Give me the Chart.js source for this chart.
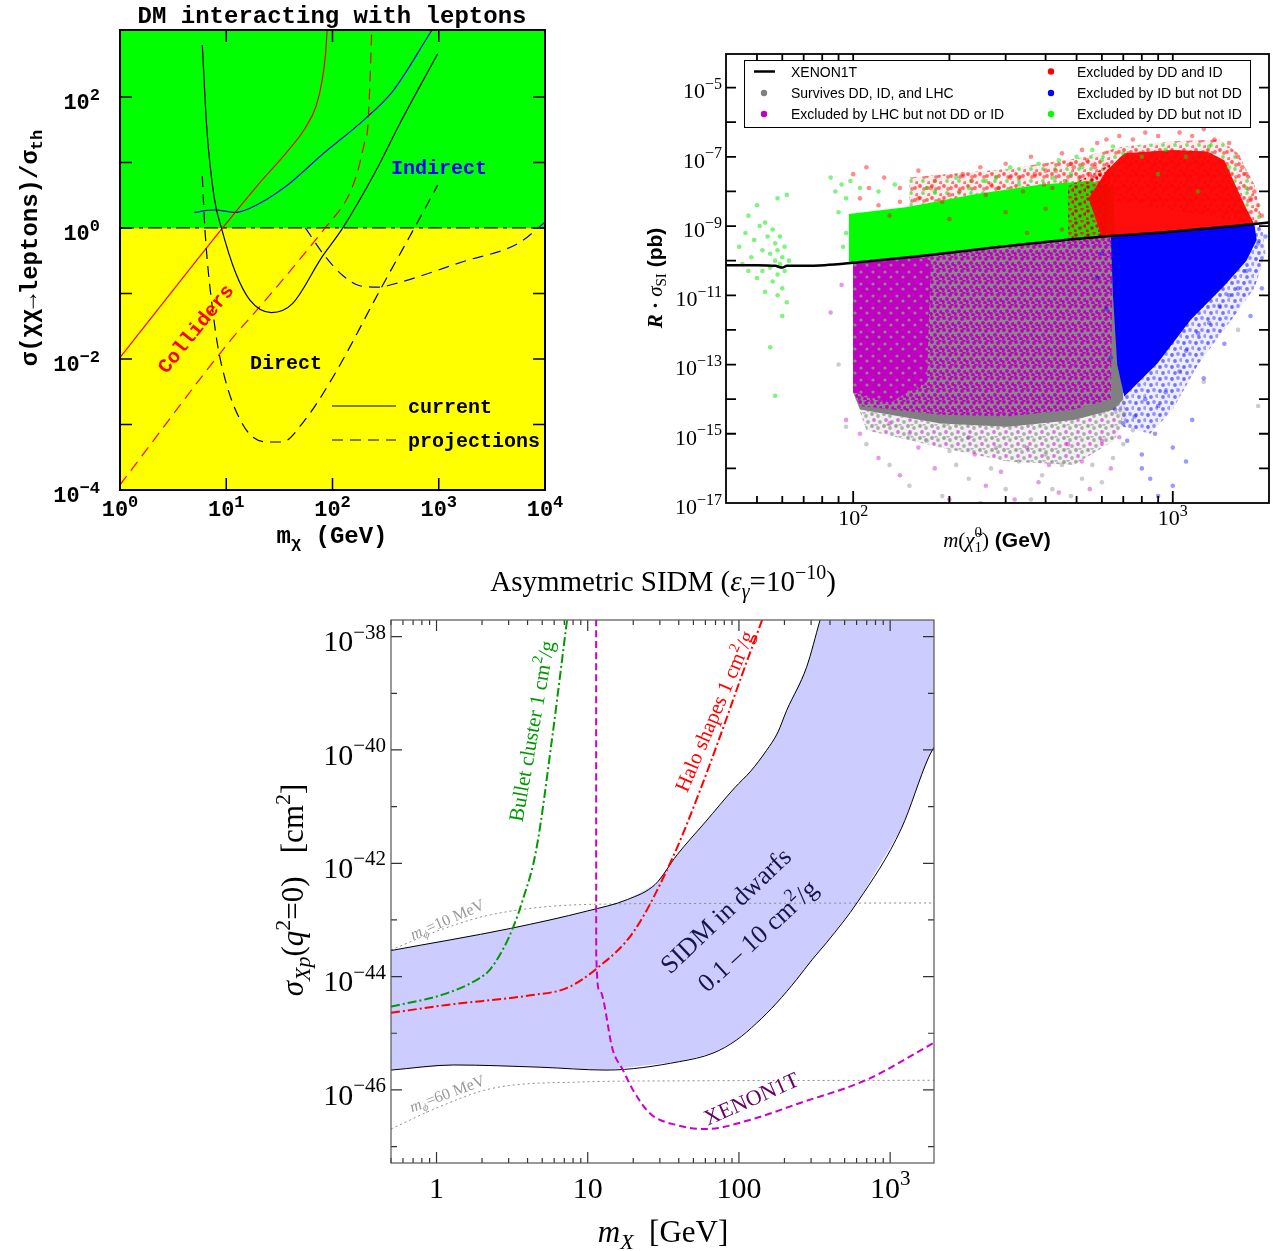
<!doctype html>
<html>
<head>
<meta charset="utf-8">
<title>Dark matter constraints</title>
<script src="https://cdn.jsdelivr.net/npm/chart.js@4.4.0/dist/chart.umd.min.js"></script>
<style>
body { margin: 0; background: #fff; overflow: hidden; }
#wrap { position: relative; width: 1273px; height: 1251px; }
canvas { position: absolute; }
</style>
</head>
<body>
<div id="wrap">
	<canvas id="c1" width="575" height="560" style="left:0px;top:0px"></canvas>
	<canvas id="c2" width="643" height="520" style="left:630px;top:40px"></canvas>
	<canvas id="c3" width="700" height="691" style="left:260px;top:560px"></canvas>
</div>
<script>
var SERIF = '"Liberation Serif", "Times New Roman", serif';
var SANS = '"Liberation Sans", Arial, sans-serif';
var MONO = '"Liberation Mono", "Courier New", monospace';

// ---------- panel 1 : DM interacting with leptons ----------
var p1RedSolidX = [1, 9, 20, 36, 55, 70, 80, 86, 89];
var p1RedSolidY = [0.0105, 0.95, 4.6, 13.5, 33, 72, 180, 450, 1050];
var p1RedDashX = [1, 10.5, 26.5, 85, 140, 171, 200, 215, 226, 234];
var p1RedDashY = [1.2e-4, 0.0176, 0.1, 1, 3, 7, 20, 35, 200, 1050];
var p1BlueSolidX = [5, 7.7, 12.2, 16.7, 36, 79, 199, 370, 864];
var p1BlueSolidY = [1.73, 1.89, 1.73, 2.0, 4.25, 13, 45, 123, 1050];
var p1BlueDashX = [55.5, 85, 125, 184, 272, 370, 1740, 5580, 10000];
var p1BlueDashY = [1, 0.37, 0.188, 0.13, 0.125, 0.138, 0.31, 0.58, 1.22];
var p1BlackSolidX = [5.95, 6.58, 7.7, 9, 12.2, 16.7, 26.6, 42, 78.7, 125, 251, 433, 977];
var p1BlackSolidY = [620, 31, 2.9, 1, 0.21, 0.079, 0.051, 0.07, 0.35, 1, 7, 40, 456];
var p1BlackDashX = [5.95, 6.3, 7.7, 9, 14.3, 24.6, 33.5, 53.4, 99, 294, 590, 977];
var p1BlackDashY = [6.2, 0.95, 0.037, 0.0083, 0.001, 5.4e-4, 5.4e-4, 0.0011, 0.005, 0.13, 1, 4.5];
var p1XRange = [1, 1e4];
var p1YRange = [1e-4, 1050];
var p1Split = 1;   // green above, yellow below

// ---------- panel 2 : scan over neutralino mass ----------
var p2XRange = [40, 2000];
var p2YRange = [1e-17, Math.pow(10, -4.03)];
var p2XenonX = [40, 50, 57, 60, 62, 70, 81.5, 100, 160, 288, 517, 1000, 2000];
var p2XenonExp = [-10.13, -10.13, -10.15, -10.2, -10.15, -10.15, -10.13, -10.06, -9.87, -9.6, -9.36, -9.16, -8.9];
// dense parts of the clouds, [mass, log10 sigma]
var p2GreenCore = [[97,-10.05],[97,-8.65],[148,-8.45],[240,-8.08],[387,-7.8],[554,-7.7],[650,-7.9],[660,-9.3],[517,-9.36],[288,-9.6],[160,-9.87]];
var p2RedHalo = [[150,-8.45],[150,-7.6],[300,-7.35],[500,-7.05],[700,-6.7],[1000,-6.55],[1400,-6.5],[1600,-6.9],[1800,-7.8],[1900,-8.8],[1800,-8.95],[600,-8.2],[387,-7.8],[240,-8.08]];
var p2RedEdge = [[470,-9.4],[470,-7.85],[560,-7.5],[640,-7.2],[620,-9.33]];
var p2RedCore = [[600,-9.33],[545,-8.2],[620,-7.4],[705,-6.9],[1000,-6.8],[1282,-6.85],[1450,-7.1],[1550,-7.7],[1700,-8.5],[1800,-8.95],[1000,-9.16],[700,-9.27]];
var p2BlueCore = [[640,-9.3],[1000,-9.16],[1800,-8.95],[1830,-9.4],[1700,-10.0],[1445,-10.74],[1138,-11.71],[896,-12.96],[705,-13.92],[670,-13.0],[650,-11]];
var p2BlueHalo = [[600,-9.35],[1000,-9.16],[1900,-8.92],[1950,-9.8],[1800,-10.8],[1500,-11.8],[1200,-13],[1000,-14.3],[850,-15.0],[700,-14.8],[620,-13],[600,-11]];
var p2GrayCore = [[100,-10.06],[100,-13.8],[105,-14.3],[188,-14.7],[304,-14.8],[490,-14.6],[655,-14.3],[700,-14.0],[670,-9.28],[517,-9.36],[288,-9.6],[160,-9.87]];
var p2GrayHalo = [[100,-13.8],[110,-14.9],[188,-15.4],[304,-15.8],[490,-15.9],[655,-15.2],[720,-14.5],[700,-14.0],[490,-14.6],[188,-14.7],[105,-14.3]];
var p2MagentaMix = [[100,-10.06],[100,-13.8],[105,-14.2],[188,-14.45],[304,-14.5],[490,-14.3],[640,-14.0],[650,-9.3],[517,-9.36],[288,-9.6],[160,-9.87]];
var p2MagentaLeft = [[100,-10.06],[100,-13.8],[130,-14.1],[170,-13.5],[175,-10],[160,-9.87]];
// loose points round the clouds
var p2GreenDots = [[44,-9.6],[46,-9.2],[47,-8.7],[48,-9.9],[49,-9.4],[50,-8.4],[51,-9.0],[52,-9.7],[52,-10.3],[53,-8.9],[54,-9.3],[55,-9.8],[55,-10.2],[56,-9.1],[56,-10.6],[57,-9.5],[57,-10.0],[58,-8.2],[58,-9.7],[58,-10.4],[59,-9.3],[59,-10.1],[60,-9.9],[60,-10.8],[61,-9.6],[61,-10.3],[62,-8.1],[62,-11.2],[60,-11.6],[58,-11.0],[45,-10.1],[47,-10.3],[53,-10.9],[55,-12.5],[57,-13.9],[50,-10.5],[63,-10.0],[85,-7.6],[88,-8.0],[92,-7.8],[95,-8.2],[90,-8.6],[98,-7.7],[105,-7.9],[120,-8.0],[135,-7.8],[170,-7.9],[210,-7.6],[260,-7.7],[310,-7.3],[380,-7.2],[440,-7.1],[500,-7.0],[560,-6.8],[650,-6.7],[700,-6.9],[800,-7.0],[950,-6.8],[1100,-7.0],[1300,-6.7],[1500,-7.3],[1700,-7.9],[900,-7.5],[1200,-8.0],[95,-9.2],[93,-9.6],[180,-8.0],[230,-7.9],[280,-7.6],[330,-7.8],[420,-7.6],[480,-7.5],[520,-7.3],[600,-7.1]];
var p2RedDots = [[100,-7.5],[110,-7.3],[125,-7.6],[140,-7.9],[160,-7.4],[180,-7.7],[200,-8.1],[220,-7.5],[250,-7.3],[270,-7.8],[300,-7.2],[330,-7.6],[360,-7.0],[400,-7.4],[420,-7.9],[450,-6.9],[480,-7.2],[520,-6.8],[550,-7.5],[580,-6.6],[600,-8.3],[620,-6.5],[680,-6.4],[750,-6.5],[820,-6.3],[900,-6.4],[1050,-6.3],[1150,-6.4],[1250,-6.2],[1350,-6.5],[1500,-6.6],[1600,-7.0],[1700,-7.5],[1800,-8.0],[1850,-8.4],[1900,-8.7],[1750,-8.2],[1650,-7.3],[300,-8.6],[200,-8.8],[400,-8.5],[130,-8.7],[450,-9.1],[350,-9.2],[160,-8.2],[175,-7.9],[190,-8.3],[215,-8.0],[235,-7.7],[260,-8.1],[285,-7.9],[310,-7.6],[340,-8.0],[370,-7.5],[395,-7.8],[430,-7.4],[460,-7.7],[490,-7.3],[510,-7.6],[540,-7.1],[570,-7.3],[140,-8.3],[120,-8.4],[105,-8.2],[112,-7.9]];
var p2BlueDots = [[600,-9.8],[580,-10.5],[620,-11.4],[640,-12.8],[660,-14.3],[700,-14.7],[720,-15.2],[760,-14.5],[800,-15.6],[820,-14.0],[850,-16.3],[880,-15.0],[900,-14.2],[950,-13.8],[1000,-15.4],[1050,-13.2],[1100,-12.6],[1150,-14.6],[1200,-12.1],[1300,-11.8],[1400,-11.3],[1500,-11.0],[1600,-10.8],[1700,-10.3],[1850,-9.5],[1900,-10.8],[1750,-11.6],[1450,-12.4],[1250,-13.4],[1000,-16.5],[900,-16.8],[800,-16.0],[1100,-15.8],[750,-13.2],[1950,-9.3]];
var p2GrayDots = [[90,-13.0],[95,-14.8],[110,-15.3],[130,-15.9],[150,-16.5],[170,-15.2],[190,-16.8],[210,-15.9],[230,-16.3],[250,-17.0],[270,-16.0],[300,-16.6],[330,-15.8],[360,-16.9],[390,-16.2],[420,-16.6],[450,-15.9],[480,-16.8],[520,-16.3],[560,-15.9],[600,-16.4],[650,-15.7],[700,-15.3],[750,-14.9],[1250,-13.5],[1600,-12.0],[1850,-14.2],[280,-15.4],[400,-15.6],[150,-15.0],[200,-15.5]];
var p2MagentaDots = [[85,-11.5],[92,-10.7],[95,-14.6],[105,-15.0],[120,-15.7],[140,-16.2],[160,-15.4],[180,-16.0],[200,-16.9],[240,-15.6],[260,-16.5],[290,-16.1],[320,-16.9],[350,-15.4],[380,-16.4],[410,-15.9],[440,-16.7],[470,-15.3],[520,-15.8],[550,-16.6],[600,-15.2],[640,-16.0],[680,-15.1],[130,-14.7],[230,-15.1]];
var p2Legend = [
	['XENON1T', 'line', '#000'],
	['Survives DD, ID, and LHC', 'dot', '#808080'],
	['Excluded by LHC but not DD or ID', 'dot', '#c000c0'],
	['Excluded by DD and ID', 'dot', '#ff0000'],
	['Excluded by ID but not DD', 'dot', '#0000ff'],
	['Excluded by DD but not ID', 'dot', '#00ff00']
];

// ---------- panel 3 : asymmetric SIDM ----------
var p3XRange = [0.5, 1950];
var p3YRange = [Math.pow(10, -47.29), Math.pow(10, -37.706)];
var p3BandUpperX = [0.5, 3.08, 10, 18.3, 28, 39, 60, 93.5, 120, 152, 180, 207, 280, 344, 2000];
var p3BandUpperExp = [-43.54, -43.15, -42.84, -42.64, -42.37, -41.85, -41.27, -40.67, -40.37, -40.01, -39.7, -39.3, -38.54, -37.706, -37.706];
var p3BandLowerX = [0.5, 1.3, 4.9, 13.2, 40.6, 67.5, 96.4, 131, 177, 241, 305, 380, 614, 1189, 1790, 2000];
var p3BandLowerExp = [-45.65, -45.56, -45.6, -45.65, -45.5, -45.35, -45.12, -44.82, -44.47, -44.05, -43.7, -43.4, -42.67, -41.38, -40.14, -39.9];
var p3BulletX = [0.5, 1.153, 1.919, 2.234, 2.735, 3.19, 3.715, 4.56, 5.87, 6.67, 7.38];
var p3BulletExp = [-44.53, -44.3, -44.03, -43.89, -43.53, -43.15, -42.65, -41.77, -39.71, -38.54, -37.6];
var p3HaloX = [0.5, 1.17, 4.18, 7.31, 11.56, 20.2, 37.3, 56.1, 76, 103.3, 147.2];
var p3HaloExp = [-44.64, -44.5, -44.33, -44.2, -43.85, -43.2, -41.84, -40.67, -39.72, -38.72, -37.6];
var p3XenonX = [11.37, 11.38, 11.97, 14.66, 17.1, 19.9, 25.7, 38.5, 61, 118, 254, 701, 2000];
var p3XenonExp = [-37.5, -43.6, -44.24, -45.3, -45.65, -46.0, -46.41, -46.62, -46.69, -46.53, -46.23, -45.82, -45.15];
var p3Mphi10X = [0.5, 1.0, 2.27, 8.97, 41.3, 2000];
var p3Mphi10Exp = [-43.53, -43.2, -42.91, -42.73, -42.71, -42.7];
var p3Mphi60X = [0.5, 1.0, 2.27, 8.97, 41.3, 2000];
var p3Mphi60Exp = [-46.69, -46.32, -45.98, -45.86, -45.84, -45.83];

// ---------- helpers ----------
function pts(xs, ys) { return xs.map(function (x, i) { return {x: x, y: ys[i]}; }); }
function ptsExp(xs, es) { return xs.map(function (x, i) { return {x: x, y: Math.pow(10, es[i])}; }); }
function pairs(list) { return list.map(function (p) { return {x: p[0], y: Math.pow(10, p[1])}; }); }

function curve(data, color, dash, width, order) {
	return { data: data, showLine: true, borderColor: color, borderWidth: width || 1, borderDash: dash || [],
		pointRadius: 0, fill: false, cubicInterpolationMode: 'monotone', order: order || 1 };
}
function area(data, color, order) {
	return { data: data, showLine: true, borderWidth: 0, borderColor: 'rgba(0,0,0,0)', backgroundColor: color,
		pointRadius: 0, fill: 'shape', order: order };
}
function dots(data, color, r, order) {
	return { data: data, showLine: false, pointRadius: r, pointBorderWidth: 0, backgroundColor: color,
		borderColor: color, pointBackgroundColor: color, order: order };
}
// small speckled tile, to mimic overlapping point clouds; spots = [x, y, colour]
function speckle(base, r, spots) {
	var c = document.createElement('canvas');
	c.width = 12; c.height = 12;
	var g = c.getContext('2d');
	g.fillStyle = base;
	g.fillRect(0, 0, 12, 12);
	spots.forEach(function (s) {
		g.fillStyle = s[2];
		g.beginPath(); g.arc(s[0], s[1], r, 0, Math.PI * 2); g.fill();
	});
	return g.createPattern(c, 'repeat');
}

// text with super / subscripts: parts = [text, kind, style, family, color]
function rich(ctx, parts, x, y, o) {
	var size = o.size, small = Math.round(size * (o.scale || 0.7));
	var items = parts.map(function (p) {
		var kind = p[1] || '';
		var f = (p[2] || o.style || 'normal') + ' ' + (kind ? small : size) + 'px ' + (p[3] || o.family);
		ctx.font = f;
		var w = kind === 'ss' ? Math.max(ctx.measureText(p[0][0]).width, ctx.measureText(p[0][1]).width)
			: ctx.measureText(p[0]).width;
		return {text: p[0], kind: kind, f: f, w: w, color: p[4]};
	});
	var total = items.reduce(function (s, it) { return s + it.w; }, 0);
	ctx.save();
	ctx.translate(x, y);
	if (o.rot) ctx.rotate(o.rot * Math.PI / 180);
	ctx.textAlign = 'left';
	ctx.textBaseline = 'alphabetic';
	var cx = o.align === 'right' ? -total : (o.align === 'left' ? 0 : -total / 2);
	var base = size * 0.36;
	items.forEach(function (it) {
		ctx.font = it.f;
		ctx.fillStyle = it.color || o.color || '#000';
		if (it.kind === 'sup') ctx.fillText(it.text, cx, base - size * 0.42);
		else if (it.kind === 'sub') ctx.fillText(it.text, cx, base + size * 0.22);
		else if (it.kind === 'ss') {
			ctx.fillText(it.text[0], cx, base - size * 0.45);
			ctx.fillText(it.text[1], cx, base + size * 0.25);
		} else ctx.fillText(it.text, cx, base);
		cx += it.w;
	});
	ctx.restore();
}
function pow10(e, style) {
	return [['10', '', style], [(e < 0 ? '\u2212' : '') + Math.abs(e), 'sup', style]];
}

// inward ticks on all four sides and the frame
function frame(chart, o) {
	var ctx = chart.ctx, a = chart.chartArea, xs = chart.scales.x, ys = chart.scales.y;
	ctx.save();
	ctx.strokeStyle = o.tickColor || o.color;
	ctx.lineWidth = o.tickWidth;
	ctx.beginPath();
	o.xTicks.forEach(function (t) {
		var px = xs.getPixelForValue(t[0]);
		ctx.moveTo(px, a.bottom); ctx.lineTo(px, a.bottom - t[1]);
		ctx.moveTo(px, a.top); ctx.lineTo(px, a.top + t[1]);
	});
	o.yTicks.forEach(function (t) {
		var py = ys.getPixelForValue(t[0]);
		ctx.moveTo(a.left, py); ctx.lineTo(a.left + t[1], py);
		ctx.moveTo(a.right, py); ctx.lineTo(a.right - t[1], py);
	});
	ctx.stroke();
	ctx.strokeStyle = o.color;
	ctx.lineWidth = o.frameWidth;
	ctx.strokeRect(a.left, a.top, a.right - a.left, a.bottom - a.top);
	ctx.restore();
}
function decadeTicks(lo, hi, withMinor, majLen, minLen) {
	var out = [];
	for (var e = lo; e <= hi; e++) {
		out.push([Math.pow(10, e), majLen]);
		if (withMinor) for (var m = 2; m <= 9; m++) out.push([m * Math.pow(10, e), minLen]);
	}
	return out;
}

function baseOptions(xr, yr, pad) {
	return {
		responsive: false, animation: false, events: [], devicePixelRatio: 1,
		layout: { padding: pad },
		plugins: { legend: { display: false }, tooltip: { enabled: false }, title: { display: false } },
		scales: {
			x: { type: 'logarithmic', min: xr[0], max: xr[1], display: false },
			y: { type: 'logarithmic', min: yr[0], max: yr[1], display: false }
		}
	};
}

// ================= panel 1 =================
new Chart(document.getElementById('c1'), {
	type: 'scatter',
	data: { datasets: [
		curve(pts(p1BlackSolidX, p1BlackSolidY), '#000', [], 1.2, 1),
		curve(pts(p1BlackDashX, p1BlackDashY), '#000', [11, 7], 1.2, 1),
		curve(pts(p1RedSolidX, p1RedSolidY), '#ff0000', [], 1.2, 1),
		curve(pts(p1RedDashX, p1RedDashY), '#ff0000', [11, 7], 1.2, 1),
		curve(pts(p1BlueSolidX, p1BlueSolidY), '#0000ff', [], 1.2, 1),
		curve(pts(p1BlueDashX, p1BlueDashY), '#0000ff', [11, 7], 1.2, 1),
		curve(pts(p1XRange, [p1Split, p1Split]), '#000', [14, 5, 4, 5], 1.2, 2),
		area(pts([p1XRange[0], p1XRange[1], p1XRange[1], p1XRange[0]], [p1Split, p1Split, p1YRange[1], p1YRange[1]]), '#00ff00', 20),
		area(pts([p1XRange[0], p1XRange[1], p1XRange[1], p1XRange[0]], [p1YRange[0], p1YRange[0], p1Split, p1Split]), '#ffff00', 20)
	] },
	options: baseOptions(p1XRange, p1YRange, { left: 120, top: 30, right: 30, bottom: 70 }),
	plugins: [{
		id: 'p1deco',
		afterDatasetsDraw: function (chart) {
			var yt = [];
			for (var e = -3; e <= 2; e++) yt.push([Math.pow(10, e), 12]);
			frame(chart, { color: '#000', frameWidth: 2, tickWidth: 1.5,
				xTicks: [[10, 12], [100, 12], [1000, 12]], yTicks: yt });
		},
		afterDraw: function (chart) {
			var ctx = chart.ctx, xs = chart.scales.x, ys = chart.scales.y;
			var m = { size: 22, family: MONO, style: 'bold', scale: 0.75 };
			[-4, -2, 0, 2].forEach(function (e) {
				rich(ctx, pow10(e), 100, ys.getPixelForValue(Math.pow(10, e)) + 4, Object.assign({ align: 'right' }, m));
			});
			[0, 1, 2, 3, 4].forEach(function (e) {
				rich(ctx, pow10(e), xs.getPixelForValue(Math.pow(10, e)), 508, m);
			});
			rich(ctx, [['DM interacting with leptons']], 332, 14, { size: 24, family: MONO, style: 'bold' });
			rich(ctx, [['m'], ['\u03c7', 'sub'], [' (GeV)']], 332, 534, { size: 24, family: MONO, style: 'bold' });
			rich(ctx, [['\u03c3(\u03c7\u03c7\u2192leptons)/\u03c3'], ['th', 'sub']], 28, 248, { size: 24, family: MONO, style: 'bold', rot: -90 });
			rich(ctx, [['Colliders']], 195, 328, { size: 20, family: MONO, style: 'bold', color: '#ff0000', rot: -51 });
			rich(ctx, [['Direct']], 286, 362, { size: 20, family: MONO, style: 'bold' });
			rich(ctx, [['Indirect']], 439, 167, { size: 20, family: MONO, style: 'bold', color: '#0000ff' });
			// key for line styles
			ctx.save();
			ctx.strokeStyle = '#000';
			ctx.lineWidth = 1.2;
			ctx.beginPath(); ctx.moveTo(332, 406); ctx.lineTo(396, 406); ctx.stroke();
			ctx.setLineDash([11, 7]);
			ctx.beginPath(); ctx.moveTo(332, 440); ctx.lineTo(396, 440); ctx.stroke();
			ctx.restore();
			rich(ctx, [['current']], 408, 406, { size: 20, family: MONO, style: 'bold', align: 'left' });
			rich(ctx, [['projections']], 408, 440, { size: 20, family: MONO, style: 'bold', align: 'left' });
		}
	}]
});

// ================= panel 2 =================
var MG = '#c000c0', GR = '#8a8a8a';
var mixFill = speckle(GR, 1.9, [[2, 2, MG], [8, 3, MG], [5, 7, MG], [11, 8, MG], [1, 10, MG], [7, 11, MG], [10, 0, MG]]);
var leftFill = speckle(MG, 1.6, [[3, 4, GR], [9, 9, GR]]);
var redEdgeFill = speckle('rgba(255,0,0,0.15)', 1.8, [[2, 3, '#e00000'], [8, 1, '#ff2020'], [6, 8, '#cc1010'], [11, 6, '#ff0000'], [1, 11, '#e02000']]);
var redHaloFill = speckle('rgba(255,0,0,0.08)', 1.9, [[2, 2, 'rgba(255,0,0,0.6)'], [9, 4, 'rgba(255,0,0,0.55)'], [5, 9, 'rgba(0,220,0,0.55)'], [11, 11, 'rgba(255,0,0,0.5)'], [6, 5, 'rgba(220,0,0,0.45)']]);
var blueHaloFill = speckle('rgba(0,0,255,0.07)', 1.9, [[2, 3, 'rgba(0,0,255,0.55)'], [8, 2, 'rgba(0,0,255,0.4)'], [5, 9, 'rgba(0,0,255,0.5)'], [11, 8, 'rgba(0,0,255,0.35)']]);
var grayHaloFill = speckle('rgba(128,128,128,0.12)', 1.9, [[2, 2, 'rgba(128,128,128,0.7)'], [8, 4, 'rgba(128,128,128,0.6)'], [4, 8, 'rgba(192,0,192,0.5)'], [10, 10, 'rgba(128,128,128,0.6)'], [6, 0, 'rgba(128,128,128,0.5)']]);
new Chart(document.getElementById('c2'), {
	type: 'scatter',
	data: { datasets: [
		curve(ptsExp(p2XenonX, p2XenonExp), '#000', [], 2.5, 1),
		dots(pairs(p2RedDots), 'rgba(255,0,0,0.45)', 2.3, 3),
		dots(pairs(p2GreenDots), 'rgba(0,230,0,0.5)', 2.3, 4),
		dots(pairs(p2BlueDots), 'rgba(0,0,255,0.4)', 2.3, 4),
		dots(pairs(p2MagentaDots), 'rgba(192,0,192,0.4)', 2.3, 5),
		dots(pairs(p2GrayDots), 'rgba(128,128,128,0.4)', 2.3, 5),
		area(pairs(p2RedCore), 'rgba(255,0,0,0.95)', 6),
		area(pairs(p2RedEdge), redEdgeFill, 6),
		area(pairs(p2GreenCore), '#00ff00', 7),
		area(pairs(p2BlueCore), '#0000ff', 7),
		area(pairs(p2MagentaLeft), leftFill, 8),
		area(pairs(p2MagentaMix), mixFill, 9),
		area(pairs(p2GrayCore), '#808080', 10),
		area(pairs(p2GrayHalo), grayHaloFill, 11),
		area(pairs(p2BlueHalo), blueHaloFill, 11),
		area(pairs(p2RedHalo), redHaloFill, 12)
	] },
	options: baseOptions(p2XRange, p2YRange, { left: 96, top: 14, right: 4, bottom: 57 }),
	plugins: [{
		id: 'p2deco',
		afterDatasetsDraw: function (chart) {
			var xt = [], yt = [];
			[50, 60, 70, 80, 90, 200, 300, 400, 500, 600, 700, 800, 900].forEach(function (v) { xt.push([v, 7]); });
			xt.push([100, 12]); xt.push([1000, 12]);
			for (var e = -16; e <= -5; e++) yt.push([Math.pow(10, e), 10]);
			frame(chart, { color: '#000', frameWidth: 1.8, tickWidth: 1.8, xTicks: xt, yTicks: yt });
		},
		afterDraw: function (chart) {
			var ctx = chart.ctx, xs = chart.scales.x, ys = chart.scales.y;
			for (var e = -17; e <= -5; e += 2) {
				rich(ctx, pow10(e), 92, ys.getPixelForValue(Math.pow(10, e)) + 3, { size: 22, family: SERIF, align: 'right', scale: 0.72 });
			}
			[2, 3].forEach(function (e) {
				rich(ctx, pow10(e), xs.getPixelForValue(Math.pow(10, e)), 477, { size: 22, family: SERIF, scale: 0.72 });
			});
			rich(ctx, [['R', '', 'bold italic', SERIF], [' \u00b7 ', '', 'bold', SERIF], ['\u03c3', '', 'italic', SERIF],
				['SI', 'sub', '', SERIF], [' (pb)', '', 'bold', SANS]], 24, 238, { size: 21, family: SERIF, rot: -90 });
			rich(ctx, [['m', '', 'italic', SERIF], ['(', '', '', SERIF], ['\u03c7\u0303', '', 'italic', SERIF],
				[['0', '1'], 'ss', '', SERIF], [')', '', '', SERIF], [' (GeV)', '', 'bold', SANS]], 367, 499, { size: 21, family: SERIF });
			// legend box
			ctx.save();
			ctx.fillStyle = '#fff';
			ctx.fillRect(114, 20, 506, 67);
			ctx.strokeStyle = '#000';
			ctx.lineWidth = 1;
			ctx.strokeRect(114.5, 20.5, 506, 67);
			var rows = [31.5, 53, 74];
			p2Legend.forEach(function (it, i) {
				var col = i < 3 ? 0 : 1, row = i % 3;
				var mx = col ? 421 : 134, tx = col ? 447 : 161, y = rows[row];
				if (it[1] === 'line') {
					ctx.strokeStyle = it[2]; ctx.lineWidth = 2.5;
					ctx.beginPath(); ctx.moveTo(124, y); ctx.lineTo(145, y); ctx.stroke();
				} else {
					ctx.fillStyle = it[2];
					ctx.beginPath(); ctx.arc(mx, y, 3.2, 0, Math.PI * 2); ctx.fill();
				}
				rich(ctx, [[it[0]]], tx, y, { size: 14, family: SANS, align: 'left' });
			});
			ctx.restore();
		}
	}]
});

// ================= panel 3 =================
var bandPoly = ptsExp(p3BandUpperX, p3BandUpperExp).concat(ptsExp(p3BandLowerX, p3BandLowerExp).reverse());
var upperEdgeN = p3BandUpperX.length - 1;
new Chart(document.getElementById('c3'), {
	type: 'scatter',
	data: { datasets: [
		curve(ptsExp(p3XenonX, p3XenonExp), '#cc00cc', [7, 4], 2, 1),
		curve(ptsExp(p3HaloX, p3HaloExp), '#ff0000', [9, 3, 2, 3], 2, 1),
		curve(ptsExp(p3BulletX, p3BulletExp), '#009900', [9, 3, 2, 3], 2, 1),
		curve(ptsExp(p3BandUpperX.slice(0, upperEdgeN), p3BandUpperExp.slice(0, upperEdgeN)), '#000', [], 1, 2),
		curve(ptsExp(p3BandLowerX, p3BandLowerExp), '#000', [], 1, 2),
		curve(ptsExp(p3Mphi10X, p3Mphi10Exp), '#8c8c8c', [2, 3], 1, 3),
		curve(ptsExp(p3Mphi60X, p3Mphi60Exp), '#8c8c8c', [2, 3], 1, 3),
		area(bandPoly, '#ccccff', 10)
	] },
	options: baseOptions(p3XRange, p3YRange, { left: 131, top: 60, right: 26, bottom: 88 }),
	plugins: [{
		id: 'p3deco',
		afterDatasetsDraw: function (chart) {
			var xt = decadeTicks(-1, 3, true, 11, 5).filter(function (t) { return t[0] >= 0.5 && t[0] < 1950; });
			var yt = [];
			for (var e = -47; e <= -38; e++) yt.push([Math.pow(10, e), e % 2 === 0 ? 11 : 6]);
			frame(chart, { color: '#555', tickColor: '#333', frameWidth: 1.2, tickWidth: 1.2, xTicks: xt, yTicks: yt });
		},
		afterDraw: function (chart) {
			var ctx = chart.ctx, xs = chart.scales.x, ys = chart.scales.y;
			for (var e = -46; e <= -38; e += 2) {
				rich(ctx, pow10(e), 126, ys.getPixelForValue(Math.pow(10, e)) + 4, { size: 30, family: SERIF, align: 'right' });
			}
			[[1, [['1']]], [10, [['10']]], [100, [['100']]], [1000, pow10(3)]].forEach(function (t) {
				rich(ctx, t[1], xs.getPixelForValue(t[0]), 627, { size: 30, family: SERIF });
			});
			rich(ctx, [['Asymmetric SIDM ('], ['\u03b5', '', 'italic'], ['\u03b3', 'sub', 'italic'], ['=10'], ['\u221210', 'sup'], [')']],
				403, 21, { size: 29, family: SERIF });
			rich(ctx, [['m', '', 'italic'], ['X', 'sub', 'italic'], ['  [GeV]']], 403, 671, { size: 31, family: SERIF });
			rich(ctx, [['\u03c3', '', 'italic'], ['Xp', 'sub', 'italic'], ['('], ['q', '', 'italic'], ['2', 'sup'], ['=0)   [cm'], ['2', 'sup'], [']']],
				32, 330, { size: 31, family: SERIF, rot: -90 });
			rich(ctx, [['Bullet cluster 1 cm'], ['2', 'sup'], ['/g']], 271, 171, { size: 21, family: SERIF, color: '#009900', rot: -80 });
			rich(ctx, [['Halo shapes 1 cm'], ['2', 'sup'], ['/g']], 454, 151, { size: 21, family: SERIF, color: '#ff0000', rot: -67 });
			rich(ctx, [['SIDM in dwarfs']], 465, 350, { size: 26, family: SERIF, color: '#16164a', rot: -43.5 });
			rich(ctx, [['0.1 \u2013 10 cm'], ['2', 'sup'], ['/g']], 497, 375, { size: 26, family: SERIF, color: '#16164a', rot: -42.5 });
			rich(ctx, [['XENON1T']], 491, 538, { size: 22, family: SERIF, color: '#660066', rot: -23.8 });
			rich(ctx, [['m', '', 'italic'], ['\u03d5', 'sub', 'italic'], ['=10 MeV']], 187, 359, { size: 16, family: SERIF, color: '#999', rot: -23.5 });
			rich(ctx, [['m', '', 'italic'], ['\u03d5', 'sub', 'italic'], ['=60 MeV']], 187, 533, { size: 16, family: SERIF, color: '#999', rot: -20.7 });
		}
	}]
});
</script>
</body>
</html>
